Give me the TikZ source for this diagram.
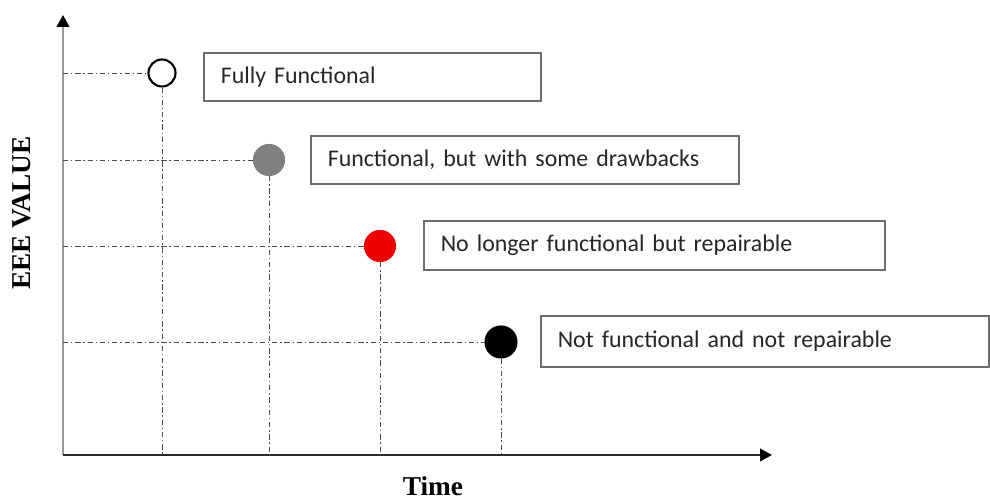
\documentclass[tikz,border=0pt]{standalone}
\usepackage{fontspec}
\setmainfont{Liberation Serif}
\newfontfamily\boxfont{Carlito}
\usepackage{tikz}
\usetikzlibrary{positioning, arrows.meta, calc}
\definecolor{axisgray}{HTML}{9A9A9A}
\definecolor{axisdark}{HTML}{2A2A2A}
\definecolor{guidegray}{HTML}{4A4A4A}
\definecolor{boxborder}{HTML}{6E6E6E}
\definecolor{dotgray}{HTML}{808080}
\definecolor{dotred}{HTML}{F00000}
\definecolor{labeltext}{HTML}{262626}
\tikzset{
  axisarrow/.style={-{Triangle[length=2.4mm, width=2.5mm, color=black]},
    line width=1.2pt},
  guide/.style={guidegray, line width=0.55pt,
    dash pattern=on 3pt off 1.6pt on 0.8pt off 1.6pt},
  dot/.style={circle, draw=black, line width=1.2pt, inner sep=0pt,
    minimum size=0.54cm},
  statebox/.style={
    rectangle, draw=boxborder, line width=0.9pt, anchor=west,
    align=left, inner xsep=0.34cm, inner ysep=0pt,
    font=\boxfont\fontsize{13.6}{15}\selectfont, text=labeltext
  },
  axislabel/.style={font=\bfseries\fontsize{15.5}{17}\selectfont}
}

\begin{document}
\begin{tikzpicture}

\useasboundingbox (0,0) rectangle (19.8,10);

% ── Axes ─────────────────────────────────────────────────────────────────────
\coordinate (origin) at (1.26, 0.90);
\coordinate (ytip)   at (1.26, 9.70);
\coordinate (xtip)   at (15.44, 0.90);
\draw[axisarrow, axisgray] (origin) -- (ytip);
\draw[axisarrow, axisdark] (origin) -- (xtip);

\node[axislabel, rotate=90] (ylabel) at (0.44, 5.74) {EEE VALUE};
\node[axislabel] (xlabel) at (8.66, 0.28) {Time};

% ── State dots ───────────────────────────────────────────────────────────────
\node[dot, fill=white]                       (d1) at ( 3.24, 8.54) {};
\node[dot, fill=dotgray, draw=dotgray, minimum size=0.6cm] (d2) at ( 5.38, 6.80) {};
\node[dot, fill=dotred,  draw=dotred,  minimum size=0.6cm] (d3) at ( 7.60, 5.08) {};
\node[dot, fill=black,   minimum size=0.62cm] (d4) at (10.02, 3.16) {};

% ── Guide lines to both axes ─────────────────────────────────────────────────
\foreach \d in {d1,d2,d3,d4} {
  \draw[guide] (\d.west -| origin) -- (\d.west);
  \draw[guide] (\d.south) -- (\d.south |- origin);
}

% ── Label boxes ──────────────────────────────────────────────────────────────
\node[statebox, text width=6.06cm, minimum height=0.96cm] (b1) at ( 4.06, 8.46)
  {Fully Functional};
\node[statebox, text width=7.88cm, minimum height=0.96cm] (b2) at ( 6.20, 6.80)
  {Functional, but with some drawbacks};
\node[statebox, text width=8.54cm, minimum height=0.98cm] (b3) at ( 8.46, 5.09)
  {No longer functional but repairable};
\node[statebox, text width=8.28cm, minimum height=1.02cm] (b4) at (10.80, 3.17)
  {Not functional and not repairable};

\end{tikzpicture}
\end{document}
